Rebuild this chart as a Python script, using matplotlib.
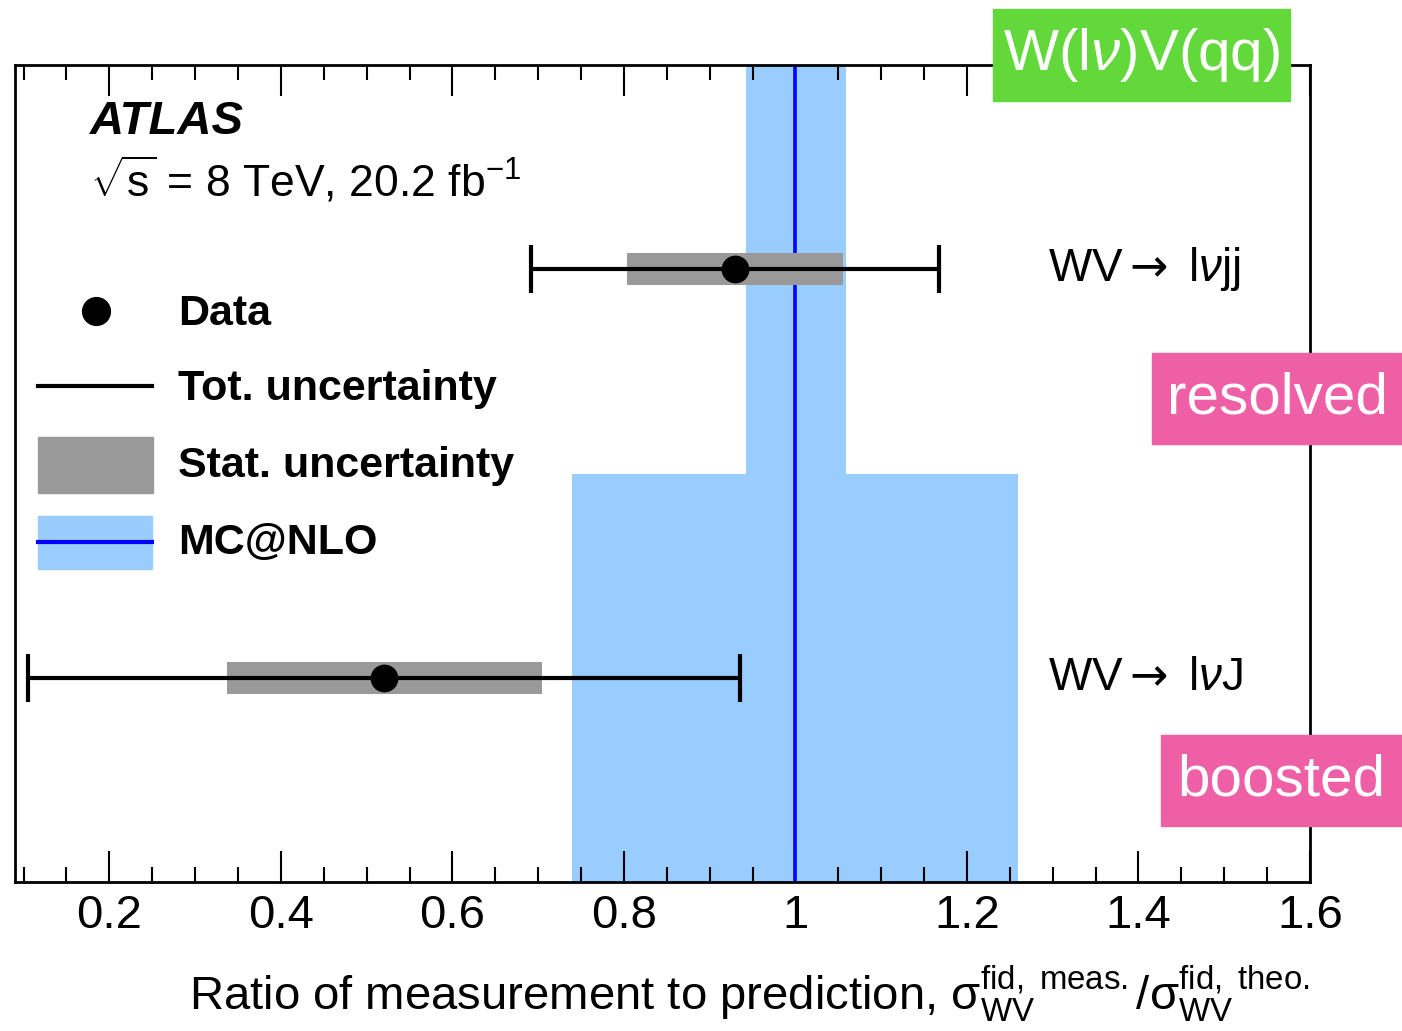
import matplotlib
matplotlib.use('Agg')
import matplotlib.pyplot as plt
from matplotlib.patches import Rectangle
from matplotlib.lines import Line2D
from matplotlib.ticker import MultipleLocator

plt.rcParams['font.family'] = ['Liberation Sans', 'DejaVu Sans']
plt.rcParams['mathtext.fontset'] = 'custom'
plt.rcParams['mathtext.rm'] = 'Liberation Sans'
plt.rcParams['mathtext.it'] = 'Liberation Sans:italic'
plt.rcParams['mathtext.bf'] = 'Liberation Sans:bold'
plt.rcParams['mathtext.sf'] = 'DejaVu Sans'
plt.rcParams['mathtext.default'] = 'regular'

# channels, bottom to top
channels = ['boosted', 'resolved']
chan_labels = [r'WV$\mathsf{\rightarrow}$ l$\mathit{\nu}$J', r'WV$\mathsf{\rightarrow}$ l$\mathit{\nu}$jj']
chan_y = [0.5, 1.5]

# measured ratio and uncertainties
ratio = [0.52, 0.93]
tot_lo = [0.105, 0.692]
tot_hi = [0.935, 1.167]
stat_lo = [0.337, 0.804]
stat_hi = [0.704, 1.056]

# MC@NLO prediction band
theo_lo = [0.74, 0.942]
theo_hi = [1.26, 1.059]
theo_central = 1.0

band_col = '#99ccff'
stat_col = '#999999'

fig = plt.figure(figsize=(14.02, 10.31), dpi=100)
ax = fig.add_axes([15/1402, 1 - 882/1031, 1295/1402, 817/1031])

# prediction band
ax.barh(chan_y, [h - l for l, h in zip(theo_lo, theo_hi)], left=theo_lo,
        height=1.0, color=band_col, zorder=1)
ax.axvline(theo_central, color='#0000ff', lw=2.6, zorder=2)

# stat boxes
ax.barh(chan_y, [h - l for l, h in zip(stat_lo, stat_hi)], left=stat_lo,
        height=0.078, color=stat_col, zorder=3)

# total uncertainty + points
xerr = [[r - l for r, l in zip(ratio, tot_lo)], [h - r for r, h in zip(ratio, tot_hi)]]
ax.errorbar(ratio, chan_y, xerr=xerr, fmt='o', color='black', ms=19,
            elinewidth=3, capsize=17, capthick=3, zorder=4)

for y, lab in zip(chan_y, chan_labels):
    ax.text(0.798, y, lab, transform=ax.get_yaxis_transform(), fontsize=33,
            va='center', ha='left')

ax.set_xlim(0.09, 1.6)
ax.set_ylim(0, 2)
ax.set_yticks([])
ax.xaxis.set_major_locator(MultipleLocator(0.2))
ax.xaxis.set_minor_locator(MultipleLocator(0.05))
ax.set_xticks([0.2, 0.4, 0.6, 0.8, 1.0, 1.2, 1.4, 1.6])
ax.set_xticklabels(['0.2', '0.4', '0.6', '0.8', '1', '1.2', '1.4', '1.6'])
ax.tick_params(axis='x', which='major', direction='in', length=22, width=1.5,
               top=True, labelsize=34, pad=9)
ax.tick_params(axis='x', which='minor', direction='in', length=11, width=1.5, top=True)
for sp in ax.spines.values():
    sp.set_linewidth(2)

ax.set_xlabel(r'Ratio of measurement to prediction, '
              r'$\sigma^{fid,\ meas.}_{WV}/\sigma^{fid,\ theo.}_{WV}$',
              fontsize=34, loc='right', labelpad=18)

# ATLAS label
ax.text(0.058, 0.93, 'ATLAS', transform=ax.transAxes, fontsize=34,
        fontweight='bold', style='italic', va='center')
ax.text(0.058, 0.859, r'$\sqrt{s}$ = 8 TeV, 20.2 fb$^{-1}$', transform=ax.transAxes,
        fontsize=32, va='center')

# hand-made legend
tr = ax.transAxes
ax.add_line(Line2D([0.0625], [0.699], marker='o', ms=20, color='black', transform=tr))
ax.add_line(Line2D([0.0178, 0.1058], [0.607, 0.607], lw=3, color='black', transform=tr))
ax.add_patch(Rectangle((0.0178, 0.476), 0.0888, 0.069, color=stat_col, transform=tr))
ax.add_patch(Rectangle((0.0178, 0.383), 0.088, 0.065, color=band_col, transform=tr))
ax.add_line(Line2D([0.0178, 0.1058], [0.416, 0.416], lw=3, color='#0000ff', transform=tr))
for ya, lab in zip([0.695, 0.603, 0.509, 0.415],
                   ['Data', 'Tot. uncertainty', 'Stat. uncertainty', 'MC@NLO']):
    ax.text(0.126, ya, lab, transform=tr, fontsize=31, fontweight='bold', va='center')

# coloured tags
tags = [('W(l$\\mathit{\\nu}$)V(qq)', '#62d83a', 993, 9, 1290, 101),
        ('resolved', '#ee5fa6', 1152, 353, 1402, 444),
        ('boosted', '#ee5fa6', 1161, 735, 1402, 826)]
for txt, col, x0, y0, x1, y1 in tags:
    fig.add_artist(Rectangle((x0/1402, 1 - y1/1031), (x1 - x0)/1402, (y1 - y0)/1031,
                             color=col, transform=fig.transFigure, zorder=5))
    fig.text((x0 + x1)/2/1402, 1 - (y0 + y1)/2/1031, txt, color='white',
             fontsize=42, ha='center', va='center', zorder=6)

fig.savefig('out.png', dpi=100)
